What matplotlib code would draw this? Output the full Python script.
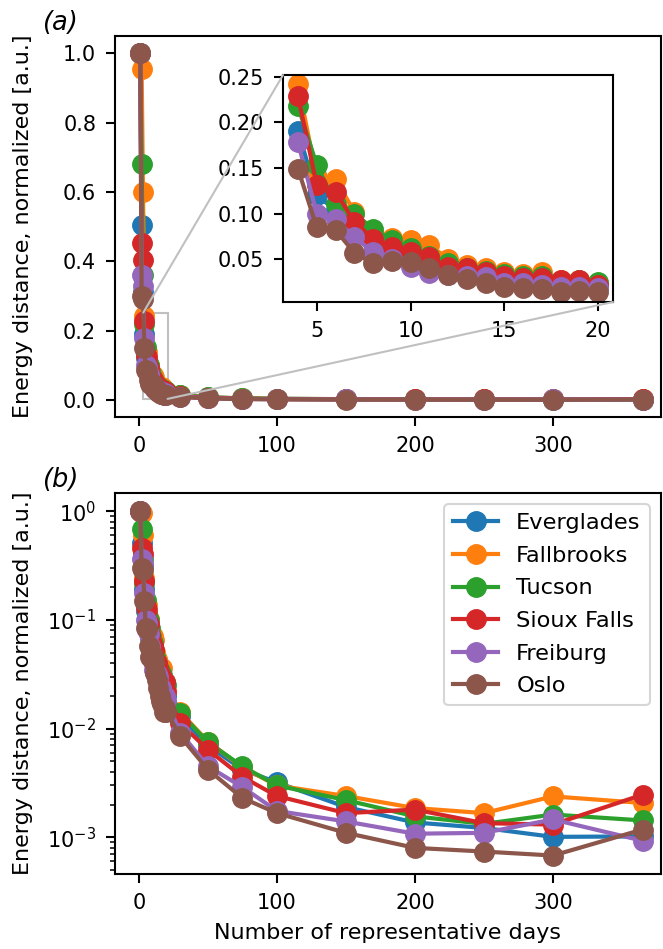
import matplotlib
matplotlib.use("Agg")
import matplotlib.pyplot as plt
from matplotlib.patches import Rectangle, ConnectionPatch

plt.rcParams['font.family'] = ['DejaVu Sans']
plt.rcParams['font.size'] = 15
plt.rcParams['axes.labelsize'] = 16
plt.rcParams['axes.linewidth'] = 1.5
plt.rcParams['axes.labelpad'] = 7.4
for ax_ in ('xtick', 'ytick'):
    plt.rcParams[f'{ax_}.major.size'] = 6.5
    plt.rcParams[f'{ax_}.major.width'] = 1.5
    plt.rcParams[f'{ax_}.major.pad'] = 7
    plt.rcParams[f'{ax_}.minor.size'] = 3.7
    plt.rcParams[f'{ax_}.minor.width'] = 1.1
    plt.rcParams[f'{ax_}.minor.pad'] = 6.4
plt.rcParams['patch.linewidth'] = 1.5

days = [1, 2, 3, 4, 5, 6, 7, 8, 9, 10, 11, 12, 13, 14, 15, 16, 17, 18, 19, 20,
        30, 50, 75, 100, 150, 200, 250, 300, 365]

cities = ["Everglades", "Fallbrooks", "Tucson", "Sioux Falls", "Freiburg", "Oslo"]

everglades = [1.0, 0.506, 0.31, 0.191, 0.12, 0.104, 0.082, 0.068, 0.060, 0.055,
              0.048, 0.040, 0.037, 0.033, 0.030, 0.028, 0.026, 0.025, 0.023, 0.020,
              0.0130, 0.0070, 0.0042, 0.0032, 0.0019, 0.00137, 0.00122, 0.00101, 0.00102]
fallbrooks = [1.0, 0.955, 0.60, 0.242, 0.14, 0.138, 0.102, 0.080, 0.073, 0.0708,
              0.0653, 0.0507, 0.0434, 0.040, 0.036, 0.034, 0.036, 0.027, 0.027, 0.022,
              0.0142, 0.0076, 0.0044, 0.0030, 0.0024, 0.00186, 0.00167, 0.00238, 0.00207]
tucson = [1.0, 0.68, 0.36, 0.218, 0.153, 0.111, 0.100, 0.0835, 0.071, 0.0617,
          0.053, 0.0453, 0.040, 0.037, 0.034, 0.031, 0.031, 0.026, 0.027, 0.0252,
          0.0139, 0.0075, 0.0045, 0.0030, 0.0022, 0.00156, 0.00133, 0.00162, 0.00143]
sioux_falls = [1.0, 0.454, 0.405, 0.229, 0.131, 0.124, 0.091, 0.0726, 0.0635, 0.058,
               0.0525, 0.0416, 0.040, 0.036, 0.032, 0.029, 0.029, 0.027, 0.027, 0.0216,
               0.0112, 0.0064, 0.0036, 0.0024, 0.00167, 0.0018, 0.00135, 0.00131, 0.00247]
freiburg = [1.0, 0.36, 0.33, 0.178, 0.10, 0.094, 0.074, 0.058, 0.050, 0.0416,
            0.0343, 0.0325, 0.032, 0.030, 0.0234, 0.0234, 0.0216, 0.0198, 0.0198, 0.018,
            0.0092, 0.0045, 0.0029, 0.00175, 0.0014, 0.00108, 0.0011, 0.00146, 0.00093]
oslo = [1.0, 0.30, 0.29, 0.149, 0.085, 0.082, 0.057, 0.0453, 0.048, 0.047,
        0.0398, 0.0325, 0.028, 0.0234, 0.0198, 0.018, 0.017, 0.0143, 0.0154, 0.0143,
        0.0085, 0.0042, 0.0023, 0.00167, 0.0011, 0.0008, 0.00074, 0.00068, 0.00118]

series = [everglades, fallbrooks, tucson, sioux_falls, freiburg, oslo]
colors = ["#1f77b4", "#ff7f0e", "#2ca02c", "#d62728", "#9467bd", "#8c564b"]

inset_days = [d for d in days if 4 <= d <= 20]

W, H = 663, 949
fig = plt.figure(figsize=(W / 100, H / 100), dpi=100)

def frac(l, t, r, b):
    return [l / W, 1 - b / H, (r - l) / W, (b - t) / H]

ax1 = fig.add_axes(frac(115, 36, 661, 417))
ax2 = fig.add_axes(frac(115, 493, 661, 874))
axins = fig.add_axes(frac(283, 75, 613, 302))

ms = 14
lw = 3
for name, vals, c in zip(cities, series, colors):
    ax1.plot(days, vals, '-o', color=c, ms=ms, lw=lw, label=name)
    ax2.plot(days, vals, '-o', color=c, ms=ms, lw=lw, label=name)
    iv = [v for d, v in zip(days, vals) if 4 <= d <= 20]
    axins.plot(inset_days, iv, '-o', color=c, ms=ms, lw=lw)

xl = (-17.3, 378.3)
ax1.set_xlim(*xl)
ax2.set_xlim(*xl)
ax1.set_xticks([0, 100, 200, 300])
ax2.set_xticks([0, 100, 200, 300])
ax1.set_yticks([0.0, 0.2, 0.4, 0.6, 0.8, 1.0])

ax2.set_yscale('log')
ax2.set_ylim(4.6e-4, 1.47)

axins.set_xlim(3.2, 20.8)
axins.set_ylim(0.003, 0.252)
axins.set_xticks([5, 10, 15, 20])
axins.set_yticks([0.05, 0.10, 0.15, 0.20, 0.25])

ylabel = "Energy distance, normalized [a.u.]"
ax1.set_ylabel(ylabel)
ax2.set_ylabel(ylabel)
ax1.yaxis.set_label_coords(-0.150, 0.5)
ax2.yaxis.set_label_coords(-0.150, 0.5)
ax2.set_xlabel("Number of representative days")

ax2.legend(loc='upper right', fontsize=16.2, labelspacing=0.56)

# inset indicator
x0, x1 = axins.get_xlim()
y0, y1 = axins.get_ylim()
gray = "#c0c0c0"
ax1.add_patch(Rectangle((x0, y0), x1 - x0, y1 - y0, fill=False,
                        edgecolor=gray, lw=1.5, zorder=1))
for xyA, xyB in [((x0, y1), (0, 1)), ((x1, y0), (1, 0))]:
    con = ConnectionPatch(xyA=xyA, coordsA=ax1.transData,
                          xyB=xyB, coordsB=axins.transAxes,
                          color=gray, lw=1.5, zorder=1)
    fig.add_artist(con)

fig.text(42 / W, 1 - 23 / H, "(a)", fontsize=18.5, style='italic', va='center', ha='left')
fig.text(42 / W, 1 - 480 / H, "(b)", fontsize=18.5, style='italic', va='center', ha='left')

fig.savefig("out.png", dpi=100)
